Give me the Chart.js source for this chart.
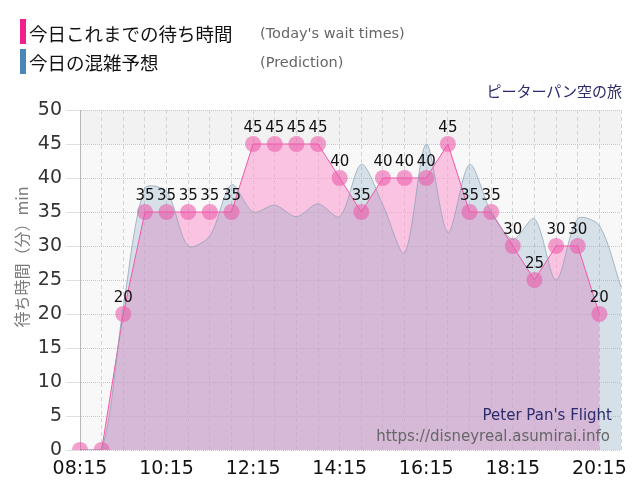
<!DOCTYPE html>
<html>
<head>
<meta charset="utf-8">
<script src="https://cdn.jsdelivr.net/npm/chart.js@4"></script>
<style>
  body { margin: 0; background: #fff; }
  #wrap { position: relative; width: 640px; height: 500px; }
  #wrap canvas { position: absolute; left: 0; top: 0; }
  .bar { position: absolute; left: 20px; width: 6px; height: 25px; }
  .jp { position: absolute; left: 29px; font: 18.5px "Noto Sans CJK JP", sans-serif; color: #111; line-height: 24px; }
  .en { position: absolute; left: 260px; font: 14.5px "DejaVu Sans", sans-serif; color: #666; line-height: 20px; }
  #ride { position: absolute; right: 18px; top: 80px; font: 15px "Noto Sans CJK JP", sans-serif; color: #2b2b6b; line-height: 22px; }
</style>
</head>
<body>
<div id="wrap">
  <canvas id="myChartWait" width="640" height="500"></canvas>
  <div class="bar" style="top:19px;background:#f0208c"></div>
  <div class="jp" style="top:21px">今日これまでの待ち時間</div>
  <div class="en" style="top:23px">(Today's wait times)</div>
  <div class="bar" style="top:49px;background:#4a86b8"></div>
  <div class="jp" style="top:50px">今日の混雑予想</div>
  <div class="en" style="top:52px">(Prediction)</div>
  <div id="ride">ピーターパン空の旅</div>
</div>
<script>
// 30 minute slots, 08:15 .. 20:45
const timeLabels = [
  "08:15", "08:45", "09:15", "09:45", "10:15", "10:45", "11:15", "11:45",
  "12:15", "12:45", "13:15", "13:45", "14:15", "14:45", "15:15", "15:45",
  "16:15", "16:45", "17:15", "17:45", "18:15", "18:45", "19:15", "19:45",
  "20:15", "20:45",
];
const shownTicks = ["08:15", "10:15", "12:15", "14:15", "16:15", "18:15", "20:15"];

// today's actual wait times (minutes)
const waitTimes = [
  0, 0, 20, 35, 35, 35, 35, 35,
  45, 45, 45, 45, 40, 35, 40, 40,
  40, 45, 35, 35, 30, 25, 30, 30,
  20, null,
];

// predicted wait times (minutes)
const predicted = [
  0, 0, 21, 38.5, 38, 30, 31.5, 39,
  35, 36, 34.3, 36.2, 34.3, 42, 36, 29,
  45, 32, 42, 35, 31, 34, 25, 34,
  33, 24,
];

const yTitle = "待ち時間（分）min";
const rideName = "Peter Pan's Flight";
const siteUrl = "https://disneyreal.asumirai.info";

const bgPlugin = {
  id: "plotBg",
  beforeDraw(chart) {
    const { ctx, chartArea: a, scales } = chart;
    ctx.save();
    ctx.fillStyle = "#f8f8f8";
    ctx.fillRect(a.left, a.top, a.right - a.left, a.bottom - a.top);
    const y45 = scales.y.getPixelForValue(45);
    ctx.fillStyle = "#f2f2f2";
    ctx.fillRect(a.left, a.top, a.right - a.left, y45 - a.top);
    ctx.restore();
  },
};

const labelPlugin = {
  id: "valueLabels",
  afterDatasetsDraw(chart) {
    const ctx = chart.ctx;
    const meta = chart.getDatasetMeta(1);
    ctx.save();
    ctx.font = '15px "DejaVu Sans"';
    ctx.fillStyle = "#111";
    ctx.textAlign = "center";
    ctx.textBaseline = "alphabetic";
    meta.data.forEach((pt, i) => {
      const v = waitTimes[i];
      if (v === null || v === 0) return;
      ctx.fillText(String(v), pt.x, pt.y - 12);
    });
    ctx.restore();
  },
  afterDraw(chart) {
    const ctx = chart.ctx;
    ctx.save();
    // y axis title
    ctx.translate(22, 257);
    ctx.rotate(-Math.PI / 2);
    ctx.font = '16px "Noto Sans CJK JP"';
    ctx.fillStyle = "#7a7a7a";
    ctx.textAlign = "center";
    ctx.textBaseline = "middle";
    ctx.fillText(yTitle, 0, 0);
    ctx.restore();

    ctx.save();
    ctx.textAlign = "right";
    ctx.font = '15px "DejaVu Sans"';
    ctx.fillStyle = "#2b2b6b";
    ctx.fillText(rideName, 612, 420);
    ctx.fillStyle = "#666";
    ctx.fillText(siteUrl, 610, 441);
    ctx.restore();
  },
};

const renderChart = () => {
  const ctx = document.getElementById("myChartWait").getContext("2d");
  new Chart(ctx, {
    type: "line",
    data: {
      labels: timeLabels,
      datasets: [
        {
          label: "今日の混雑予想",
          data: predicted,
          borderColor: "rgba(140, 160, 178, 0.7)",
          borderWidth: 1,
          backgroundColor: "rgba(118, 160, 190, 0.27)",
          fill: "origin",
          tension: 0.3,
          pointRadius: 0,
        },
        {
          label: "今日これまでの待ち時間",
          data: waitTimes,
          borderColor: "#f05aa8",
          borderWidth: 1,
          backgroundColor: "rgba(250, 160, 210, 0.6)",
          fill: "origin",
          tension: 0,
          pointRadius: 8,
          pointBackgroundColor: "rgba(236, 90, 170, 0.58)",
          pointBorderWidth: 0,
        },
      ],
    },
    options: {
      responsive: false,
      animation: false,
      events: [],
      layout: { padding: { top: 110, right: 19, left: 0, bottom: 0 } },
      plugins: {
        legend: { display: false },
        tooltip: { enabled: false },
        filler: { drawTime: "beforeDatasetsDraw" },
      },
      scales: {
        x: {
          offset: false,
          afterFit(scale) { scale.height = 50; },
          grid: {
            color: "#d4d4d4",
            drawTicks: false,
          },
          border: { display: false, dash: [4, 3] },
          ticks: {
            autoSkip: false,
            maxRotation: 0,
            padding: 8,
            color: "#111",
            font: { family: "DejaVu Sans", size: 19 },
            callback(val, i) {
              const t = timeLabels[i];
              return shownTicks.includes(t) ? t : "";
            },
          },
        },
        y: {
          min: 0,
          max: 50,
          afterFit(scale) { scale.width = 80; },
          grid: {
            color: "#c8c8c8",
            tickLength: 14,
            tickColor: "#e0e0e0",
          },
          border: { display: true, color: "#b8b8b8", dash: [1, 1] },
          ticks: {
            stepSize: 5,
            padding: 4,
            color: "#333",
            font: { family: "DejaVu Sans", size: 19 },
          },
        },
      },
    },
    plugins: [bgPlugin, labelPlugin],
  });
};

renderChart();
</script>
</body>
</html>
